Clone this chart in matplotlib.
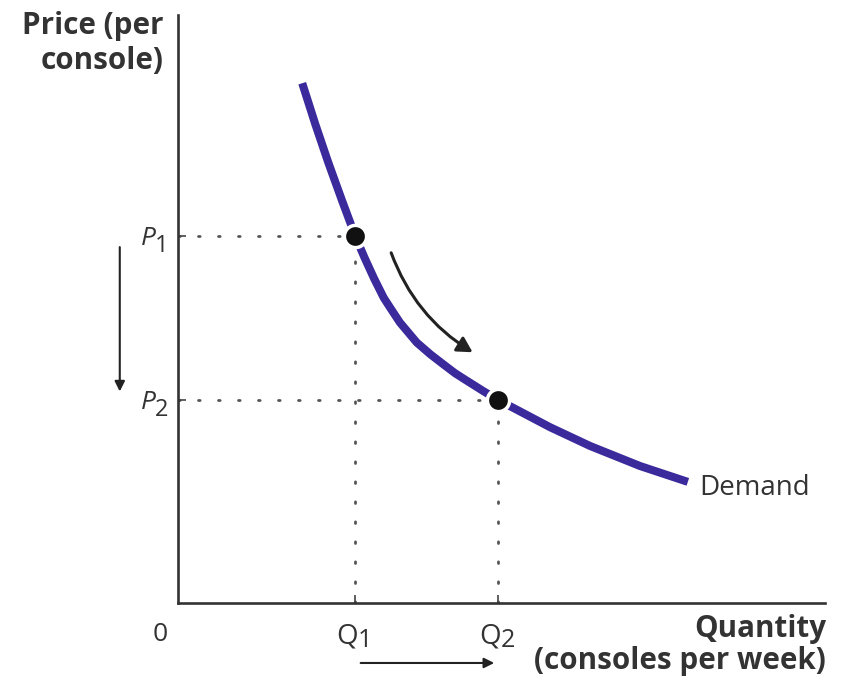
#!/usr/bin/env python3
"""Demand curve: a price cut from P1 to P2 raises quantity from Q1 to Q2."""

import matplotlib.pyplot as plt
from matplotlib.patches import FancyArrowPatch

plt.rcParams["font.family"] = ["Open Sans", "DejaVu Sans"]

# ---- Data (quantity / price in axis units, 0-100) ----
demand_q = [19.2, 21.2, 23.2, 25.4, 27.4, 28.8, 30.3, 31.8, 33.1, 34.3, 35.6,
            36.9, 39.0, 41.0, 42.8, 44.5, 47.1, 49.5, 51.8, 57.5, 63.7, 71.4, 78.8]
demand_p = [88.4, 81.5, 75.0, 68.3, 62.4, 58.8, 55.2, 51.9, 49.7, 47.7, 46.0,
            44.3, 42.3, 40.6, 39.1, 37.9, 36.1, 34.5, 33.2, 29.9, 26.7, 23.3, 20.6]

q_points = [27.4, 49.5]          # Q1, Q2
p_points = [62.4, 34.5]          # P1, P2
subscripts = ["1", "2"]

purple = "#3b2a9c"
text_col = "#333333"

fig = plt.figure(figsize=(8.44, 6.83), dpi=100, facecolor="white")
W, H = 844, 683
ax = fig.add_axes([178 / W, 80 / H, 647 / W, 588 / H])
ax.set_xlim(0, 100)
ax.set_ylim(0, 100)

for side in ("top", "right"):
    ax.spines[side].set_visible(False)
for side in ("left", "bottom"):
    ax.spines[side].set_linewidth(1.9)
    ax.spines[side].set_color("#333333")

# Dotted guides from the axes to each point
for q, p in zip(q_points, p_points):
    ax.plot([0, q], [p, p], color="#555555", lw=2.0, linestyle=(0, (0.6, 6.6)),
            dash_capstyle="round", zorder=1)
    ax.plot([q, q], [0, p], color="#555555", lw=2.0, linestyle=(0, (0.6, 6.6)),
            dash_capstyle="round", zorder=1)

# Demand curve
ax.plot(demand_q, demand_p, color=purple, lw=5.8, solid_capstyle="butt",
        solid_joinstyle="round", zorder=2)

# Points with white halo
ax.plot(q_points, p_points, "o", color="#111111", markersize=16,
        markeredgecolor="white", markeredgewidth=2.5, zorder=3)

# Small inward ticks, labels drawn by hand so the subscripts stay large
ax.set_xticks(q_points)
ax.set_xticklabels([])
ax.set_yticks(p_points)
ax.set_yticklabels([])
ax.tick_params(axis="x", direction="in", length=6, width=1.2, color="#444444")
ax.tick_params(axis="y", direction="in", length=6, width=1.2, color="#444444")

for q, s in zip(q_points, subscripts):
    ax.annotate("Q", (q, 0), xytext=(2, -14), textcoords="offset points",
                ha="right", va="top", fontsize=20, color=text_col,
                annotation_clip=False)
    ax.annotate(s, (q, 0), xytext=(1.5, -18), textcoords="offset points",
                ha="left", va="top", fontsize=18, color=text_col,
                annotation_clip=False)

for p, s in zip(p_points, subscripts):
    ax.annotate("P", (0, p), xytext=(-16, -2), textcoords="offset points",
                ha="right", va="center", fontsize=19, fontstyle="italic",
                color=text_col, annotation_clip=False)
    ax.annotate(s, (0, p), xytext=(-16.5, -7), textcoords="offset points",
                ha="left", va="center", fontsize=17, color=text_col,
                annotation_clip=False)

ax.annotate("0", (0, 0), xytext=(-13, -14), textcoords="offset points",
            ha="center", va="top", fontsize=19, color=text_col,
            annotation_clip=False)

# Movement along the curve
ax.add_patch(FancyArrowPatch((32.8, 60.0), (45.9, 42.4),
                             connectionstyle="arc3,rad=0.18",
                             arrowstyle="-|>,head_length=9,head_width=5",
                             color="#222222", lw=2.2, zorder=2))

# Price falls (left) and quantity rises (bottom)
ax.add_patch(FancyArrowPatch((-9.0, p_points[0] - 1.4), (-9.0, p_points[1] + 1.0),
                             arrowstyle="-|>,head_length=6,head_width=3",
                             color="#222222", lw=1.5, clip_on=False))
ax.add_patch(FancyArrowPatch((q_points[0] + 0.4, -10.2), (q_points[1] - 0.2, -10.2),
                             arrowstyle="-|>,head_length=6,head_width=3",
                             color="#222222", lw=1.5, clip_on=False))

ax.text(80.6, 19.5, "Demand", ha="left", va="center", fontsize=20, color=text_col)

fig.text(163 / W, 1 - 11 / H, "Price (per\nconsole)", ha="right", va="top",
         fontsize=21.3, fontweight="bold", color=text_col, linespacing=1.2)
fig.text(826 / W, 1 - 614 / H, "Quantity\n(consoles per week)", ha="right", va="top",
         fontsize=21.3, fontweight="bold", color=text_col, linespacing=1.08,
         multialignment="right")

fig.savefig("out.png", dpi=100, facecolor="white")
plt.close(fig)
